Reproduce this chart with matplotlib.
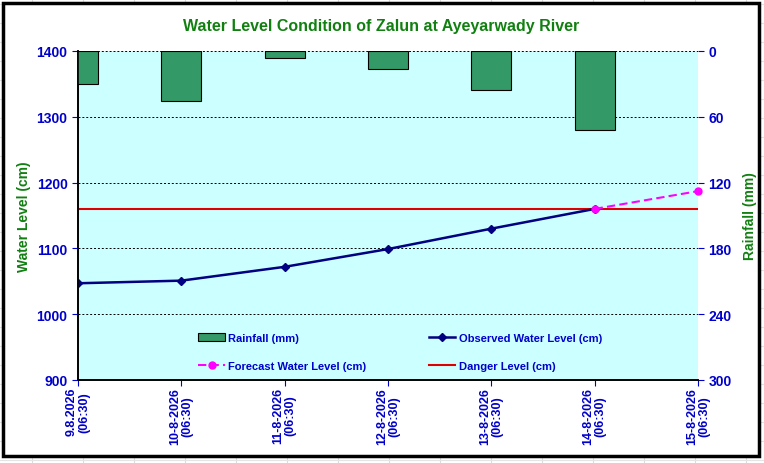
import matplotlib
matplotlib.use('Agg')
import matplotlib.pyplot as plt
from matplotlib.patches import Rectangle
from matplotlib.lines import Line2D

plt.rcParams['font.family'] = ['Liberation Sans', 'DejaVu Sans']
plt.rcParams['font.weight'] = 'bold'

# data
dates = ['9.8.2026\n(06:30)', '10-8-2026\n(06:30)', '11-8-2026\n(06:30)', '12-8-2026\n(06:30)',
         '13-8-2026\n(06:30)', '14-8-2026\n(06:30)', '15-8-2026\n(06:30)']
rainfall = [30, 46, 6, 16, 36, 72]
observed = [1047, 1051, 1072, 1099, 1130, 1160]
forecast_x = [5, 6]
forecast = [1160, 1187]
danger_level = 1160

blue = '#0000cc'
green = '#118011'

fig = plt.figure(figsize=(7.64, 4.64), dpi=100)
W, H = 764, 464

# faint spreadsheet cells behind the chart frame
for x in range(32, W, 51):
    fig.add_artist(Line2D([x / W, x / W], [0, 1], color='#dcdcdc', lw=0.8, zorder=0))
for y in range(5, H, 19):
    fig.add_artist(Line2D([0, 1], [1 - y / H, 1 - y / H], color='#e4e4e4', lw=0.8, zorder=0))
fig.add_artist(Rectangle((3 / W, 1 - 457 / H), 756 / W, 453 / H, facecolor='white',
                         edgecolor='black', lw=2.5, zorder=1))

ax2 = fig.add_axes([78 / W, 1 - 381 / H, 620 / W, 329 / H], zorder=2)
ax2.set_facecolor('#ccffff')
ax2.bar(range(len(rainfall)), rainfall, width=0.39, color='#339966', edgecolor='black', lw=0.8,
        zorder=3, label='Rainfall (mm)')
ax2.set_ylim(300, 0)
ax2.set_yticks(range(0, 301, 60))
ax2.yaxis.tick_right()
ax2.yaxis.set_label_position('right')
ax2.set_ylabel('Rainfall (mm)', color=green, fontsize=10, fontweight='bold', labelpad=8)
ax2.grid(axis='y', color='black', linestyle=(0, (2, 2)), lw=0.7, zorder=1)
ax2.set_axisbelow(True)
ax2.set_xlim(0, 6)
ax2.set_xticks([])

ax = fig.add_axes(ax2.get_position(), zorder=3)
ax.patch.set_visible(False)
ax.axhline(danger_level, color='#dd0000', lw=1.5, label='Danger Level (cm)')
ax.plot(range(len(observed)), observed, color='#000080', lw=1.8, marker='D', ms=4,
        label='Observed Water Level (cm)')
ax.plot(forecast_x, forecast, color='#ff00ff', lw=1.5, ls=(0, (4, 2)), marker='o', ms=5,
        label='Forecast Water Level (cm)', clip_on=False)
ax.set_xlim(0, 6)
ax.set_ylim(900, 1400)
ax.set_yticks(range(900, 1401, 100))
ax.set_xticks(range(len(dates)))
ax.set_xticklabels(dates, rotation=90, color=blue, fontsize=9, linespacing=1.0)
ax.set_ylabel('Water Level (cm)', color=green, fontsize=10, fontweight='bold', labelpad=4)
ax.set_title('Water Level Condition of Zalun at Ayeyarwady River', color=green,
             fontsize=11.5, fontweight='bold', pad=15, x=0.489)

for a in (ax, ax2):
    a.tick_params(axis='y', colors=blue, labelsize=10, direction='out', length=4)
    for lab in a.get_yticklabels():
        lab.set_color(blue)
        lab.set_fontweight('bold')
    for s in a.spines.values():
        s.set_linewidth(1.2)
ax.tick_params(axis='x', colors=blue, direction='out', length=4, pad=1)
for lab in ax.get_xticklabels():
    lab.set_fontweight('bold')
for s in ('top', 'right'):
    ax2.spines[s].set_visible(False)
    ax.spines[s].set_visible(False)

h2, l2 = ax2.get_legend_handles_labels()
h1, l1 = ax.get_legend_handles_labels()
handles = [h2[0], h1[2], h1[1], h1[0]]
labels = [l2[0], l1[2], l1[1], l1[0]]
leg = ax.legend(handles, labels, ncol=2, loc='center', bbox_to_anchor=(400 / W, 1 - 353 / H),
                bbox_transform=fig.transFigure, frameon=False, fontsize=8, handlelength=2.4,
                handletextpad=0.3, columnspacing=5.6, labelspacing=1.65)
for t in leg.get_texts():
    t.set_color(blue)
    t.set_fontweight('bold')

fig.savefig('out.png', dpi=100)
